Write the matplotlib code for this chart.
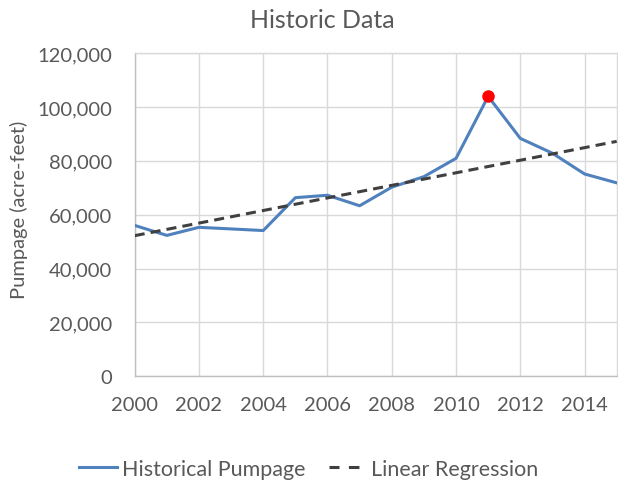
import matplotlib
matplotlib.use('Agg')
import matplotlib.pyplot as plt
from matplotlib.lines import Line2D
from matplotlib.ticker import FuncFormatter

# Datos
years = [2000, 2001, 2002, 2003, 2004, 2005, 2006, 2007,
         2008, 2009, 2010, 2011, 2012, 2013, 2014, 2015]
pumpage = [56000, 52300, 55300, 54700, 54100, 66300, 67200, 63300,
           70200, 74100, 80900, 103900, 88300, 82800, 75100, 71800]

# Extremos de la regresion lineal
reg_years = [2000, 2015]
reg_values = [52200, 87200]

peak_year = [2011]
peak_value = [103900]

gray_text = '#595959'
grid_color = '#d9d9d9'
blue = '#4f81bd'
dark = '#404040'

plt.rcParams['font.family'] = ['Lato', 'DejaVu Sans']

fig = plt.figure(figsize=(6.18, 4.85), dpi=100)
ax = fig.add_axes([134.7 / 618, (485 - 377.3) / 485, 482 / 618, 323.3 / 485])

ax.plot(years, pumpage, color=blue, lw=2.2, solid_joinstyle='round', zorder=3)
ax.plot(reg_years, reg_values, color=dark, lw=2.2, dashes=(3.3, 2.0), zorder=4)
ax.plot(peak_year, peak_value, 'o', color='#ff0000', ms=8, zorder=5)

ax.set_xlim(2000, 2015)
ax.set_ylim(0, 120000)
ax.set_xticks(range(2000, 2015, 2))
ax.set_yticks(range(0, 120001, 20000))
ax.yaxis.set_major_formatter(FuncFormatter(lambda v, p: f'{int(v):,}'))

ax.grid(True, color=grid_color, lw=1)
ax.set_axisbelow(True)
for s in ax.spines.values():
    s.set_color(grid_color)
    s.set_linewidth(1)
ax.spines['left'].set_color('#bfbfbf')
ax.spines['bottom'].set_color('#bfbfbf')
ax.tick_params(axis='both', length=0, labelsize=14.5, colors=gray_text)
ax.tick_params(axis='x', pad=14)
ax.tick_params(axis='y', pad=16.5)

fig.text(322 / 618, 1 - 20 / 485, 'Historic Data', ha='center', va='center',
         fontsize=18, color=gray_text)
fig.text(19 / 618, 1 - 210 / 485, 'Pumpage (acre-feet)', ha='center', va='center',
         rotation=90, fontsize=14.5, color=gray_text)

# Leyenda con manijas propias (la discontinua muestra solo dos trazos)
h_hist = Line2D([], [], color=blue, lw=2.2)
h_reg = Line2D([], [], color=dark, lw=2.2, dashes=(3.27, 3.08, 3.45, 6.0))
leg = fig.legend([h_hist, h_reg], ['Historical Pumpage', 'Linear Regression'],
                 loc='center', bbox_to_anchor=(309 / 618, 1 - 470 / 485),
                 ncol=2, frameon=False, fontsize=15.5, handlelength=1.77,
                 handletextpad=0.2, columnspacing=1.1)
for t in leg.get_texts():
    t.set_color(gray_text)

fig.savefig('out.png', dpi=100)
